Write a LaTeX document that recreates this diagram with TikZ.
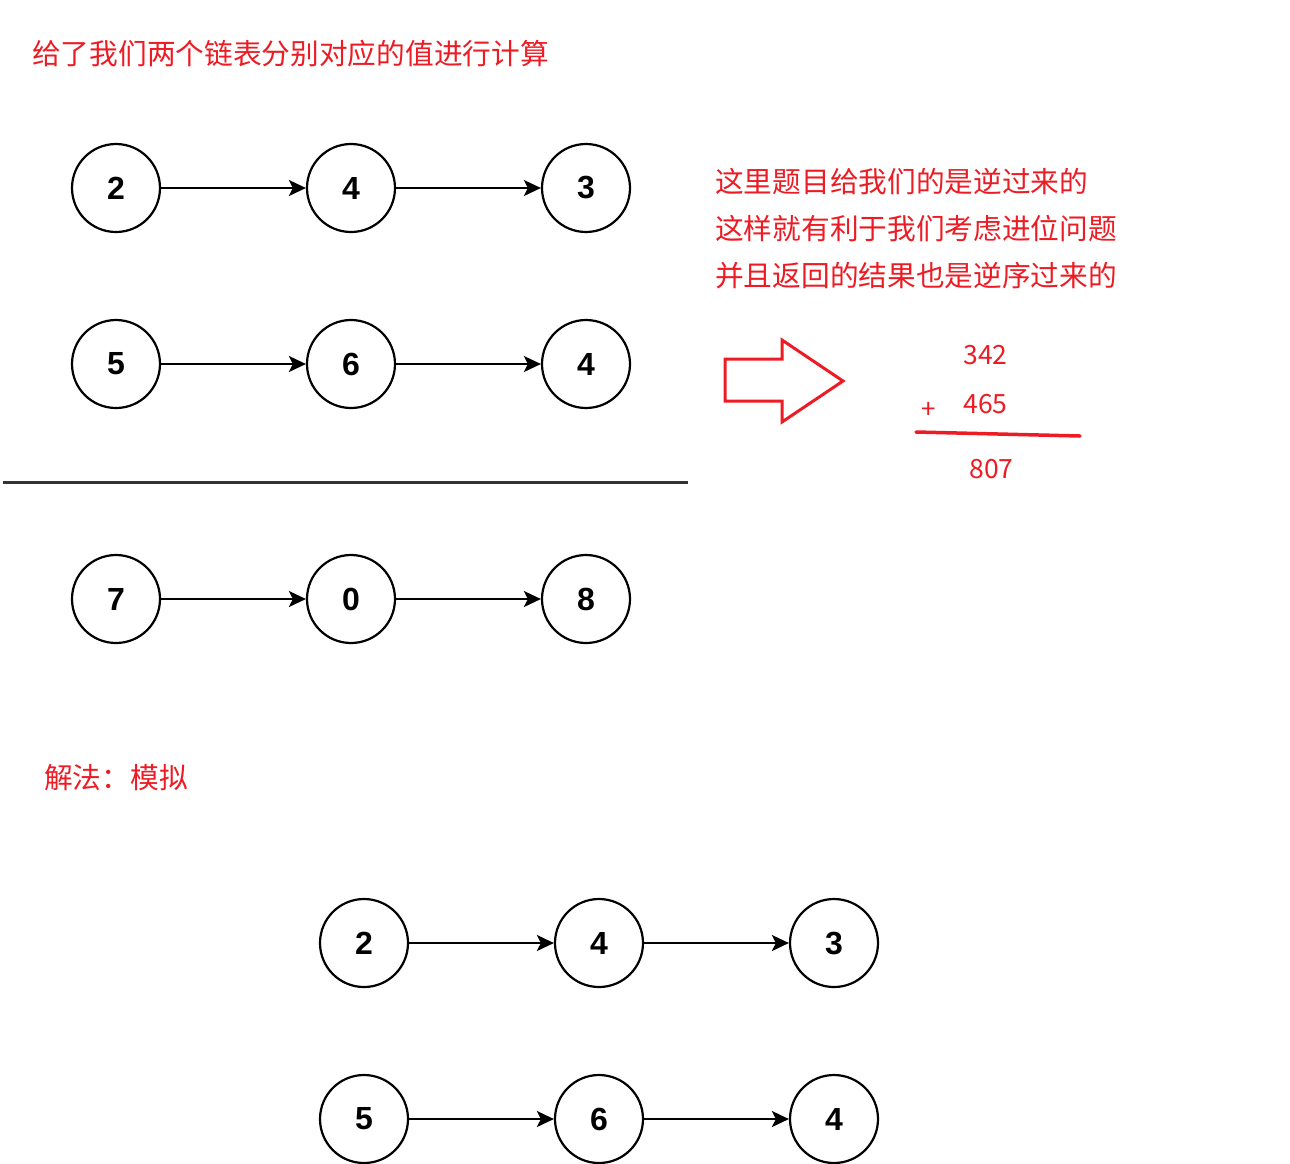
\documentclass[tikz,border=0pt]{standalone}
\usepackage{fontspec}
\setmainfont{Liberation Sans}
\newfontfamily\cjk{Noto Sans CJK SC}
\usetikzlibrary{arrows.meta}
\definecolor{notered}{HTML}{ED1C24}

\tikzset{
  listnode/.style={draw, circle, line width=2.2pt, minimum size=88pt, inner sep=0pt,
    font=\fontsize{32}{32}\selectfont\bfseries},
  link/.style={line width=2.3pt, -{Stealth[length=17pt, width=16pt, inset=4pt]}},
  note/.style={text=notered, anchor=base west, inner sep=0pt, font=\cjk\fontsize{28.7}{35}\selectfont},
  sumdigit/.style={text=notered, anchor=base, inner sep=0pt, font=\cjk\fontsize{26.5}{30}\selectfont},
}

\begin{document}
\begin{tikzpicture}[x=1pt, y=-1pt]
  \useasboundingbox (0,0) rectangle (1290,1163);

  % Titles
  \node[note] (title) at (32,64) {给了我们两个链表分别对应的值进行计算};
  \node[note] (method) at (44,788) {解法：模拟};

  % Lists: two inputs, the sum, then the two inputs again
  \foreach \row/\x/\y/\a/\b/\c in {p/116/188/2/4/3, q/116/364/5/6/4, r/116/599/7/0/8,
                                   s/364/943/2/4/3, t/364/1119/5/6/4} {
    \node[listnode] (\row1) at (\x,\y) {\a};
    \node[listnode] (\row2) at (\x+235,\y) {\b};
    \node[listnode] (\row3) at (\x+470,\y) {\c};
    \draw[link] (\row1) -- (\row2);
    \draw[link] (\row2) -- (\row3);
  }

  % Separator between inputs and result
  \draw[line width=3pt, black!80] (3,482) -- (688,482);

  % Explanation on the right
  \node[note] (why1) at (715,192) {这里题目给我们的是逆过来的};
  \node[note] (why2) at (715,239) {这样就有利于我们考虑进位问题};
  \node[note] (why3) at (715,286) {并且返回的结果也是逆序过来的};

  % Hollow red arrow
  \draw[notered, line width=3pt] (725,359) -- (782,359) -- (782,340) -- (843,381)
    -- (782,422) -- (782,401) -- (725,401) -- cycle;

  % Column addition
  \node[sumdigit] (num1) at (985.5,364) {342};
  \node[sumdigit] (num2) at (985.5,413) {465};
  \node[text=notered, inner sep=0pt, font=\cjk\fontsize{26}{30}\selectfont] (plus) at (929,410) {+};
  \draw[notered, line width=3.5pt, line cap=round] (916,432) -- (1080,436);
  \node[sumdigit] (total) at (991.5,478) {807};
\end{tikzpicture}
\end{document}
